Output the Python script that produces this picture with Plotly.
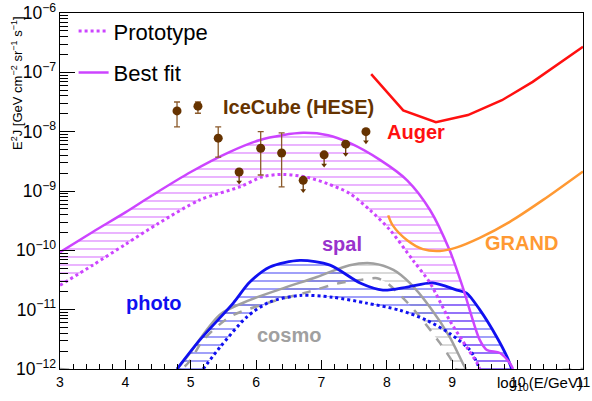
import plotly.graph_objects as go
import numpy as np

# ---- data (log10 E/GeV, log10 flux) ----
spal_best_x = [3.0, 3.5, 4.0, 4.4, 5.0, 5.6, 6.06, 6.4, 6.72, 7.1, 7.43, 7.9, 8.31, 8.66, 8.96, 9.16, 9.42, 9.53, 9.73, 9.88, 9.93]
spal_best_y = [-10.03, -9.69, -9.36, -9.08, -8.68, -8.34, -8.14, -8.06, -8.02, -8.06, -8.19, -8.48, -8.82, -9.32, -10.0, -10.62, -11.51, -11.68, -11.73, -11.9, -12.0]
spal_proto_x = [3.0, 3.5, 4.0, 4.5, 5.14, 5.75, 6.1, 6.41, 6.78, 7.1, 7.43, 7.74, 8.05, 8.4, 8.66, 8.96, 9.22, 9.38, 9.42]
spal_proto_y = [-10.59, -10.25, -9.9, -9.55, -9.15, -8.93, -8.76, -8.72, -8.77, -8.88, -9.04, -9.32, -9.66, -10.17, -10.55, -11.18, -11.63, -11.9, -12.0]

photo_best_x = [4.79, 5.14, 5.65, 5.9, 6.21, 6.67, 7.13, 7.59, 7.94, 8.31, 8.7, 9.07, 9.22, 9.42, 9.68, 9.84, 9.91]
photo_best_y = [-12.0, -11.51, -10.89, -10.54, -10.28, -10.17, -10.25, -10.55, -10.67, -10.62, -10.55, -10.67, -10.72, -11.0, -11.46, -11.8, -12.0]
photo_proto_x = [5.19, 5.45, 5.86, 6.21, 6.67, 7.17, 7.69, 8.2, 8.61, 8.96, 9.27, 9.38, 9.42]
photo_proto_y = [-12.0, -11.63, -11.12, -10.87, -10.76, -10.79, -10.89, -11.01, -11.18, -11.4, -11.68, -11.9, -12.0]

cosmo_best_x = [4.79, 4.94, 5.45, 5.9, 6.41, 6.93, 7.43, 7.79, 8.1, 8.35, 8.66, 8.96, 9.16, 9.21]
cosmo_best_y = [-12.0, -11.8, -11.08, -10.84, -10.64, -10.45, -10.25, -10.22, -10.33, -10.55, -10.96, -11.46, -11.9, -12.0]
cosmo_proto_x = [3.0, 4.85, 5.2, 5.6, 6.2, 6.8, 7.28, 7.6, 7.85, 8.0, 8.2, 8.46, 8.81, 9.01, 9.05, 11.0]
cosmo_proto_y = [-12.0, -12.0, -11.5, -11.12, -10.88, -10.7, -10.55, -10.5, -10.47, -10.55, -10.75, -11.06, -11.56, -11.89, -12.0, -12.0]

auger_x = [7.76, 8.25, 8.75, 9.24, 9.76, 10.23, 11.0]
auger_y = [-7.03, -7.64, -7.84, -7.72, -7.47, -7.16, -6.57]

grand_x = [8.02, 8.09, 8.31, 8.55, 8.81, 9.07, 9.42, 9.88, 10.39, 11.0]
grand_y = [-9.41, -9.58, -9.83, -9.98, -10.01, -9.95, -9.79, -9.52, -9.15, -8.67]

hese_x = [4.79, 5.11, 5.42, 5.74, 6.07, 6.39, 6.72, 7.04, 7.37, 7.68]
hese_y = [-7.65, -7.57, -8.11, -8.68, -8.28, -8.36, -8.82, -8.39, -8.21, -8.0]
hese_hi = [-7.50, -7.50, -7.92, None, -8.0, -8.02, None, None, None, None]
hese_lo = [-7.92, -7.69, -8.43, None, -8.73, -8.93, None, None, None, None]
ul_arrow_len = 0.17  # decades

PURPLE = "#cc44ff"
BLUE = "#1010f0"
GRAY = "#a0a0a0"
RED = "#ff1010"
ORANGE = "#ff9933"
BROWN = "#663300"
FONT = "Liberation Sans, Arial, Helvetica, sans-serif"
SM = 0.8

def p(a):
    return [10 ** v for v in a]

fig = go.Figure()

def band(bx, by, lx, ly, color):
    xs = list(bx) + list(lx)[::-1]
    ys = list(by) + list(ly)[::-1]
    fig.add_trace(go.Scatter(
        x=xs, y=p(ys), mode="lines", fill="toself",
        line=dict(width=0, shape="spline", smoothing=SM),
        fillcolor="rgba(0,0,0,0)",
        fillpattern=dict(shape="-", fgcolor=color, bgcolor="rgba(0,0,0,0)", size=8, solidity=0.2),
        showlegend=False, hoverinfo="skip"))

def curve(x, y, color, width, dash="solid", name=None, group=None):
    fig.add_trace(go.Scatter(x=x, y=p(y), mode="lines", name=name, legendgroup=group,
                             showlegend=name is not None,
                             line=dict(color=color, width=width, dash=dash, shape="spline", smoothing=SM)))

band(spal_best_x, spal_best_y, spal_proto_x, spal_proto_y, PURPLE)
band(cosmo_best_x, cosmo_best_y, cosmo_proto_x[1:-1], cosmo_proto_y[1:-1], GRAY)
band(photo_best_x, photo_best_y, photo_proto_x, photo_proto_y, BLUE)

curve(cosmo_proto_x, cosmo_proto_y, GRAY, 2.5, "dash")
curve(cosmo_best_x, cosmo_best_y, GRAY, 2.5)
curve(photo_proto_x, photo_proto_y, BLUE, 3, "dot")
curve(photo_best_x, photo_best_y, BLUE, 2.8)
curve(spal_proto_x, spal_proto_y, PURPLE, 3, "dot", "Prototype", "a")
curve(spal_best_x, spal_best_y, PURPLE, 2.5, "solid", "Best fit", "b")
fig.add_trace(go.Scatter(x=auger_x, y=p(auger_y), mode="lines",
                         line=dict(color=RED, width=2.5), showlegend=False))
curve(grand_x, grand_y, ORANGE, 2.5)

# IceCube HESE points
meas = [i for i in range(len(hese_x)) if hese_hi[i] is not None]
ul = [i for i in range(len(hese_x)) if hese_hi[i] is None]
fig.add_trace(go.Scatter(
    x=[hese_x[i] for i in meas], y=[10 ** hese_y[i] for i in meas], mode="markers",
    marker=dict(color=BROWN, size=9),
    error_y=dict(type="data", symmetric=False,
                 array=[10 ** hese_hi[i] - 10 ** hese_y[i] for i in meas],
                 arrayminus=[10 ** hese_y[i] - 10 ** hese_lo[i] for i in meas],
                 color="#8b5a2b", thickness=1.3, width=3),
    showlegend=False))
fig.add_trace(go.Scatter(
    x=[hese_x[i] for i in ul], y=[10 ** hese_y[i] for i in ul], mode="markers",
    marker=dict(color=BROWN, size=9),
    error_y=dict(type="data", symmetric=False, array=[0] * len(ul),
                 arrayminus=[10 ** hese_y[i] - 10 ** (hese_y[i] - ul_arrow_len) for i in ul],
                 color=BROWN, thickness=1.3, width=0),
    showlegend=False))
fig.add_trace(go.Scatter(
    x=[hese_x[i] for i in ul], y=[10 ** (hese_y[i] - ul_arrow_len) for i in ul], mode="markers",
    marker=dict(color=BROWN, size=5, symbol="triangle-down"), showlegend=False))

def label(text, x, y, color):
    fig.add_annotation(x=x, y=y, text="<b>%s</b>" % text, showarrow=False, xref="x", yref="y",
                       font=dict(family=FONT, size=20, color=color), xanchor="left", yanchor="middle")

label("IceCube (HESE)", 5.47, -7.58, BROWN)
label("Auger", 7.97, -8.0, RED)
label("GRAND", 9.47, -9.87, ORANGE)
label("spal", 6.98, -9.9, "#9933cc")
label("photo", 3.98, -10.88, BLUE)
label("cosmo", 5.99, -11.43, GRAY)

# axis titles
fig.add_annotation(text="E<sup>2</sup>J [GeV cm<sup>\u22122</sup> sr<sup>\u22121</sup> s<sup>\u22121</sup>]",
                   textangle=-90, xref="paper", yref="paper", x=(17 - 60) / 523, y=1 - (83 - 13) / 356,
                   xanchor="center", yanchor="middle", showarrow=False,
                   font=dict(family=FONT, size=13, color="black"))
fig.add_annotation(text="log<sub>10</sub>(E/GeV)", xref="paper", yref="paper", x=1.003, y=-0.008,
                   xanchor="right", yanchor="top", showarrow=False,
                   font=dict(family=FONT, size=15, color="black"))

fig.update_layout(
    width=592, height=401,
    margin=dict(l=60, r=9, t=13, b=32, autoexpand=False),
    paper_bgcolor="white", plot_bgcolor="white",
    font=dict(family=FONT, size=14, color="black"),
    legend=dict(x=0.026, y=1.008, xanchor="left", yanchor="top", bgcolor="rgba(0,0,0,0)",
                font=dict(family=FONT, size=22, color="black"), tracegroupgap=10,
                itemwidth=30),
    xaxis=dict(range=[3, 11], tickmode="linear", tick0=3, dtick=1, ticks="inside", ticklen=9,
               tickcolor="black", showline=True, linecolor="black", linewidth=1, mirror=True,
               showgrid=False, zeroline=False, tickfont=dict(size=14), automargin=False,
               minor=dict(dtick=0.2, ticks="inside", ticklen=5, tickcolor="black", showgrid=False)),
    yaxis=dict(type="log", range=[-12, -6], dtick=1, exponentformat="power", ticks="inside",
               ticklen=15, tickcolor="black", showline=True, linecolor="black", linewidth=1,
               mirror=True, showgrid=False, zeroline=False, tickfont=dict(size=14), automargin=False,
               minor=dict(dtick="D1", ticks="inside", ticklen=8, tickcolor="black", showgrid=False)),
)

fig.write_html("out.html", config={"displayModeBar": False},
               post_script="document.body.style.margin='0px';")
